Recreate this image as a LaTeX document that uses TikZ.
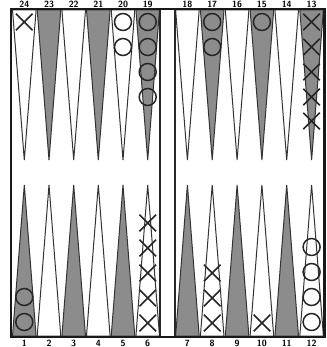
\documentclass[tikz,border=0pt]{standalone}
\usetikzlibrary{shapes.misc}
\begin{document}
\begin{tikzpicture}[
  x=1pt, y=-1pt,
  pdark/.style={fill=black!45, draw=black!80, line width=1pt},
  plight/.style={fill=white, draw=black!80, line width=1pt},
  ring/.style={circle, draw=black!85, line width=1.5pt, minimum size=17pt, inner sep=0pt},
  cross/.style={cross out, draw=black!85, line width=1.6pt, minimum size=15pt, inner sep=0pt},
  num/.style={font=\sffamily\bfseries\small, inner sep=0pt, anchor=base}
]
\useasboundingbox (0,0) rectangle (326,347);

% 上段の三角と番号
\foreach \n/\x/\s in {24/24.3/plight, 23/49.0/pdark, 22/73.7/plight, 21/98.3/pdark,
    20/123.0/plight, 19/147.7/pdark, 18/187.4/plight, 17/212.2/pdark,
    16/237.1/plight, 15/261.9/pdark, 14/286.7/plight, 13/311.6/pdark} {
  \draw[\s] (\x-11.8,10) -- (\x,160) -- (\x+11.8,10) -- cycle;
  \node[num] (n\n) at (\x,7.2) {\n};
}

% 下段の三角と番号
\foreach \n/\x/\s in {1/24.3/pdark, 2/49.0/plight, 3/73.7/pdark, 4/98.3/plight,
    5/123.0/pdark, 6/147.7/plight, 7/187.4/pdark, 8/212.2/plight,
    9/237.1/pdark, 10/261.9/plight, 11/286.7/pdark, 12/311.6/plight} {
  \draw[\s] (\x-11.8,336) -- (\x,185) -- (\x+11.8,336) -- cycle;
  \node[num] (n\n) at (\x,346.3) {\n};
}

% 上段の駒
\node[cross] (X24a) at (24.3,22) {};
\foreach \y/\t in {22/a, 47/b} \node[ring] (O20\t) at (123.0,\y) {};
\foreach \y/\t in {22/a, 47/b, 72/c, 97/d} \node[ring] (O19\t) at (147.7,\y) {};
\foreach \y/\t in {22/a, 47/b} \node[ring] (O17\t) at (212.2,\y) {};
\node[ring] (O15a) at (261.9,22) {};
\foreach \y/\t in {22/a, 47/b, 72/c, 97/d, 121/e} \node[cross] (X13\t) at (311.6,\y) {};

% 下段の駒
\foreach \y/\t in {322/a, 297/b} \node[ring] (O1\t) at (24.3,\y) {};
\foreach \y/\t in {323/a, 298/b, 273/c, 248/d, 223/e} \node[cross] (X6\t) at (147.7,\y) {};
\foreach \y/\t in {323/a, 298/b, 273/c} \node[cross] (X8\t) at (212.2,\y) {};
\node[cross] (X10a) at (261.9,323) {};
\foreach \y/\t in {322/a, 297/b, 272/c, 247/d} \node[ring] (O12\t) at (311.6,\y) {};

% 盤の枠とバー
\draw[line width=1.5pt, black!85] (160,9) -- (160,337);
\draw[line width=1.5pt, black!85] (175,9) -- (175,337);
\draw[line width=2.5pt, black!90] (11,9) rectangle (324.5,337);
\end{tikzpicture}
\end{document}
